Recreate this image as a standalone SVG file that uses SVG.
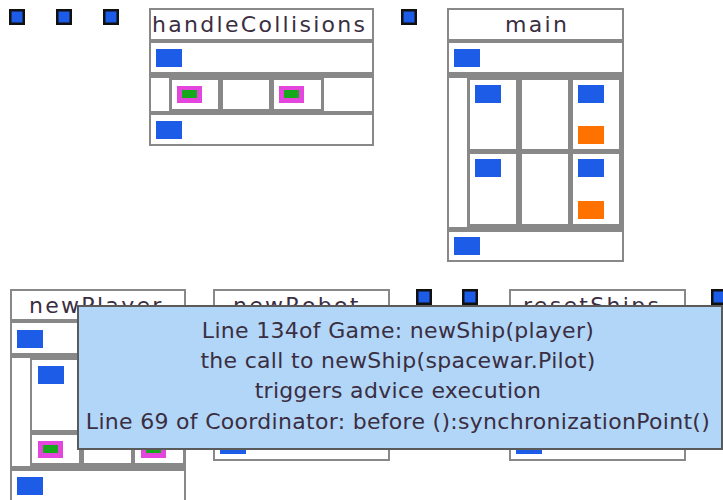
<svg xmlns="http://www.w3.org/2000/svg" width="723" height="500" viewBox="0 0 723 500">
<defs>
<style>
.frame{fill:#888888}
.cell{fill:#ffffff}
.sq{fill:#1c5ce6;stroke:#111111;stroke-width:2.5}
.blue{fill:#1c5ce6}
.orange{fill:#ff7200}
.mag{fill:#e445dc}
.green{fill:#16a81c}
.title{font-family:"DejaVu Sans",Verdana,sans-serif;font-size:22px;letter-spacing:2.3px;fill:#3a2e42}
.tip{fill:#b2d6f8;stroke:#5a5a5a;stroke-width:2}
.tiptext{font-family:"DejaVu Sans",Verdana,sans-serif;font-size:22px;letter-spacing:0.3px;fill:#3a2e42;text-anchor:middle}
</style>
</defs>
<rect width="723" height="500" fill="#ffffff"/>

<g id="square1"><rect class="sq" x="10.25" y="10.25" width="13.5" height="13.5"/></g>
<g id="square2"><rect class="sq" x="57.25" y="10.25" width="13.5" height="13.5"/></g>
<g id="square3"><rect class="sq" x="104.25" y="10.25" width="13.5" height="13.5"/></g>
<g id="square4"><rect class="sq" x="402.25" y="10.25" width="13.5" height="13.5"/></g>
<g id="square5"><rect class="sq" x="417.25" y="290.25" width="13.5" height="13.5"/></g>
<g id="square6"><rect class="sq" x="463.25" y="290.25" width="13.5" height="13.5"/></g>
<g id="square7"><rect class="sq" x="712.25" y="290.25" width="13.5" height="13.5"/></g>

<g id="handleCollisions">
<rect class="frame" x="149" y="8" width="225" height="138"/>
<rect class="cell" x="151" y="10" width="221" height="29"/>
<text class="title" x="152" y="32">handleCollisions</text>
<rect class="cell" x="151" y="43" width="221" height="29"/>
<rect class="blue" x="156" y="49" width="26" height="18"/>
<rect class="cell" x="151" y="78" width="18" height="33"/>
<rect class="cell" x="172" y="80" width="46" height="29"/>
<rect class="mag" x="177" y="86" width="25" height="17"/>
<rect class="green" x="182" y="90" width="15" height="8"/>
<rect class="cell" x="223" y="80" width="46" height="29"/>
<rect class="cell" x="274" y="80" width="47" height="29"/>
<rect class="mag" x="279" y="86" width="25" height="17"/>
<rect class="green" x="284" y="90" width="15" height="8"/>
<rect class="cell" x="324" y="78" width="48" height="33"/>
<rect class="cell" x="151" y="115" width="221" height="29"/>
<rect class="blue" x="156" y="121" width="26" height="18"/>
</g>

<g id="main">
<rect class="frame" x="447" y="8" width="177" height="254"/>
<rect class="cell" x="449" y="10" width="173" height="29"/>
<text class="title" x="505" y="32">main</text>
<rect class="cell" x="449" y="43" width="173" height="29"/>
<rect class="blue" x="454" y="49" width="26" height="18"/>
<rect class="cell" x="449" y="78" width="18" height="149"/>
<rect class="cell" x="470" y="80" width="46" height="69"/>
<rect class="blue" x="475" y="85" width="26" height="18"/>
<rect class="cell" x="522" y="80" width="46" height="69"/>
<rect class="cell" x="573" y="80" width="46" height="69"/>
<rect class="blue" x="578" y="85" width="26" height="18"/>
<rect class="orange" x="578" y="126" width="26" height="18"/>
<rect class="cell" x="470" y="154" width="46" height="70"/>
<rect class="blue" x="475" y="159" width="26" height="18"/>
<rect class="cell" x="522" y="154" width="46" height="70"/>
<rect class="cell" x="573" y="154" width="46" height="70"/>
<rect class="blue" x="578" y="159" width="26" height="18"/>
<rect class="orange" x="578" y="201" width="26" height="18"/>
<rect class="cell" x="449" y="232" width="173" height="28"/>
<rect class="blue" x="454" y="237" width="26" height="18"/>
</g>

<g id="newPlayer">
<rect class="frame" x="10" y="289" width="176" height="213"/>
<rect class="cell" x="12" y="291" width="172" height="28"/>
<text class="title" x="29" y="313">newPlayer</text>
<rect class="cell" x="12" y="323" width="172" height="30"/>
<rect class="blue" x="17" y="330" width="26" height="18"/>
<rect class="cell" x="12" y="358" width="18" height="108"/>
<rect class="cell" x="32" y="360" width="47" height="70"/>
<rect class="blue" x="38" y="366" width="26" height="18"/>
<rect class="cell" x="84" y="360" width="47" height="70"/>
<rect class="cell" x="135" y="360" width="48" height="70"/>
<rect class="cell" x="32" y="435" width="47" height="28"/>
<rect class="mag" x="38" y="441" width="25" height="17"/>
<rect class="green" x="43" y="445" width="15" height="8"/>
<rect class="cell" x="84" y="435" width="47" height="28"/>
<rect class="cell" x="135" y="435" width="48" height="28"/>
<rect class="mag" x="141" y="441" width="25" height="17"/>
<rect class="green" x="146" y="445" width="15" height="8"/>
<rect class="cell" x="12" y="471" width="172" height="29"/>
<rect class="blue" x="17" y="477" width="26" height="18"/>
</g>

<g id="newRobot">
<rect class="frame" x="213" y="289" width="177" height="172"/>
<rect class="cell" x="215" y="291" width="173" height="28"/>
<text class="title" x="233" y="313">newRobot</text>
<rect class="cell" x="215" y="323" width="173" height="30"/>
<rect class="cell" x="215" y="358" width="173" height="67"/>
<rect class="cell" x="215" y="430" width="173" height="29"/>
<rect class="blue" x="220" y="436" width="26" height="18"/>
</g>

<g id="resetShips">
<rect class="frame" x="509" y="289" width="177" height="172"/>
<rect class="cell" x="511" y="291" width="173" height="28"/>
<text class="title" x="523" y="313">resetShips</text>
<rect class="cell" x="511" y="323" width="173" height="30"/>
<rect class="cell" x="511" y="358" width="173" height="67"/>
<rect class="cell" x="511" y="430" width="173" height="29"/>
<rect class="blue" x="516" y="436" width="26" height="18"/>
</g>

<g id="connectors"></g>

<g id="tooltip">
<rect class="tip" x="78" y="306" width="644" height="143"/>
<text class="tiptext" x="398" y="338">Line 134of Game: newShip(player)</text>
<text class="tiptext" x="398" y="368">the call to newShip(spacewar.Pilot)</text>
<text class="tiptext" x="398" y="398">triggers advice execution</text>
<text class="tiptext" x="398" y="429">Line 69 of Coordinator: before ():synchronizationPoint()</text>
</g>
</svg>
